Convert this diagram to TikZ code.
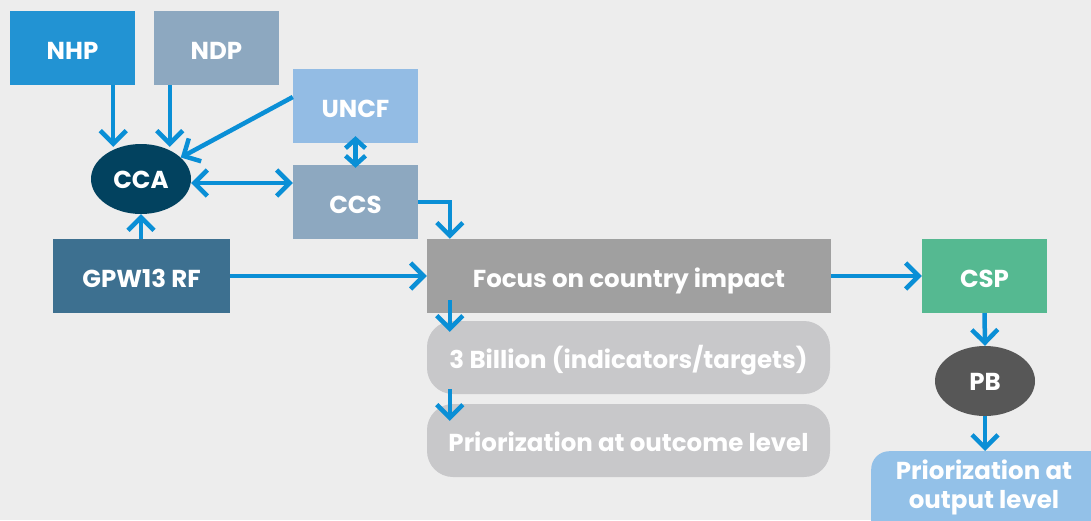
\documentclass[tikz,border=0pt]{standalone}
\usepackage{fontspec}
\setmainfont{Poppins}
\usetikzlibrary{arrows.meta,shapes.geometric}
\definecolor{bg}{HTML}{EDEDED}
\definecolor{cnhp}{HTML}{2293D3}
\definecolor{cndp}{HTML}{8DA8C0}
\definecolor{cuncf}{HTML}{93BCE4}
\definecolor{ccca}{HTML}{02425F}
\definecolor{cgpw}{HTML}{3D7090}
\definecolor{cfocus}{HTML}{A0A0A0}
\definecolor{clight}{HTML}{C8C8CA}
\definecolor{ccsp}{HTML}{55B991}
\definecolor{cpb}{HTML}{575757}
\definecolor{cout}{HTML}{93C1E8}
\definecolor{carr}{HTML}{0A8FD6}
\tikzset{
  box/.style={rectangle, inner sep=0pt, text=white, text height=22pt, text depth=0pt, font=\fontsize{24.5}{29}\selectfont\bfseries},
  oval/.style={ellipse, inner sep=0pt, minimum width=100pt, minimum height=70pt, text=white, text height=18pt, text depth=0pt, font=\fontsize{24.5}{29}\selectfont\bfseries},
  arr/.style={draw=carr, line width=4.5pt, -{Straight Barb[length=13pt,width=26pt]}},
  darr/.style={draw=carr, line width=4.5pt, {Straight Barb[length=9pt,width=20pt]}-{Straight Barb[length=9pt,width=20pt]}},
  hdarr/.style={draw=carr, line width=4.5pt, {Straight Barb[length=13pt,width=26pt]}-{Straight Barb[length=13pt,width=26pt]}},
}
\begin{document}
\begin{tikzpicture}[x=1pt,y=-1pt]
\fill[bg] (0,0) rectangle (1091,520);
\useasboundingbox (0,0) rectangle (1091,520);
\node[box, fill=cnhp, minimum width=125pt, minimum height=74pt] (nhp) at (72.5,48) {NHP};
\node[box, fill=cndp, minimum width=125pt, minimum height=74pt] (ndp) at (216.5,48) {NDP};
\node[box, fill=cuncf, minimum width=125pt, minimum height=74pt] (uncf) at (355.5,106) {UNCF};
\node[box, fill=cndp, minimum width=125pt, minimum height=74pt] (ccs) at (355.5,202) {CCS};
\node[oval, fill=ccca] (cca) at (141,179) {CCA};
\node[box, fill=cgpw, minimum width=177pt, minimum height=74pt] (gpw) at (141.5,276) {GPW13 RF};
\node[box, fill=cfocus, minimum width=404pt, minimum height=74pt] (focus) at (629,276) {Focus on country impact};
\node[box, fill=clight, rounded corners=26pt, minimum width=403pt, minimum height=73pt] (bil) at (628.5,357.5) {3 Billion (indicators/targets)};
\node[box, fill=clight, rounded corners=26pt, minimum width=403pt, minimum height=73pt] (outc) at (628.5,440.5) {Priorization at outcome level};
\node[box, fill=ccsp, minimum width=125pt, minimum height=74pt] (csp) at (984.5,276) {CSP};
\node[oval, fill=cpb] (pb) at (985,381) {PB};
\node[box, fill=cout, rounded corners=18pt, minimum width=240pt, minimum height=100pt, anchor=north west] (outp) at (871,451) {};
\node[text=white, inner sep=0pt, align=center, font=\fontsize{24.5}{29}\selectfont\bfseries] (outpt) at (984,487) {Priorization at\\output level};
% connectors
\draw[arr] ([xshift=-22pt]nhp.south east) -- ([xshift=-22pt,yshift=-3pt]nhp.south east |- cca.north);
\draw[arr] ([xshift=16pt]ndp.south west) -- ([xshift=16pt,yshift=-3pt]ndp.south west |- cca.north);
\draw[arr] ([yshift=9pt]uncf.west) -- (cca);
\draw[darr] ([yshift=7pt]uncf.south) -- ([yshift=-3pt]ccs.north);
\draw[hdarr] ([yshift=-4pt]cca.east) -- ([yshift=-4pt]cca.east -| ccs.west);
\draw[arr] (gpw.north -| cca.south) -- (cca.south);
\draw[arr] (gpw.east) -- (gpw.east -| focus.west);
\draw[arr] (ccs.east) -| ([xshift=23pt]focus.north west);
\draw[arr] ([xshift=23pt,yshift=13pt]focus.south west) -- ([xshift=23pt,yshift=-11pt]bil.north west);
\draw[arr] ([xshift=23pt,yshift=5pt]bil.south west) -- ([xshift=23pt,yshift=-17pt]outc.north west);
\draw[arr] (focus.east) -- (csp.west);
\draw[arr] (csp.south) -- (pb.north);
\draw[arr] (pb.south) -- (pb.south |- outp.north);
\end{tikzpicture}
\end{document}
